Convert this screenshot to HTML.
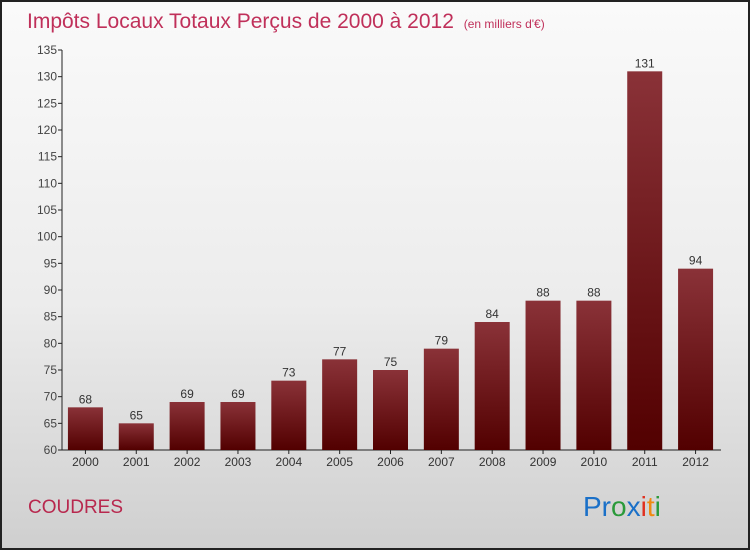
<!DOCTYPE html>
<html><head><meta charset="utf-8"><style>
html,body{margin:0;padding:0}
body{width:750px;height:550px;overflow:hidden;font-family:"Liberation Sans",sans-serif}
</style></head><body>
<svg id="c" width="750" height="550" xmlns="http://www.w3.org/2000/svg">
<defs>
<linearGradient id="bg" x1="0" y1="0" x2="0" y2="1"><stop offset="0" stop-color="#fafafa"/><stop offset="0.55" stop-color="#ececec"/><stop offset="1" stop-color="#cfcfcf"/></linearGradient>
<linearGradient id="bar" x1="0" y1="0" x2="0" y2="1"><stop offset="0" stop-color="#8a3238"/><stop offset="1" stop-color="#520000"/></linearGradient>
</defs>
<rect x="1" y="1" width="748" height="548" fill="url(#bg)" stroke="#222" stroke-width="2"/>
<text x="27" y="28" font-size="21" fill="#c0305a">Impôts Locaux Totaux Perçus de 2000 à 2012 <tspan font-size="12" dx="4">(en milliers d'€)</tspan></text>
<g id="axes"></g>
<g id="bars"></g>
<text x="28" y="513" font-size="19" fill="#b8284e">COUDRES</text>
<g font-size="28">
<text x="583" y="516"><tspan fill="#1a70c8">Pr</tspan><tspan fill="#2a9a3a">o</tspan><tspan fill="#1a70c8">x</tspan><tspan fill="#e03020">i</tspan><tspan fill="#f08a10">t</tspan><tspan fill="#2a9a3a">i</tspan></text>
</g>
</svg>
<script>
const years=["2000","2001","2002","2003","2004","2005","2006","2007","2008","2009","2010","2011","2012"];
const values=[68,65,69,69,73,77,75,79,84,88,88,131,94];
const yTicks=[60,65,70,75,80,85,90,95,100,105,110,115,120,125,130,135];
const NS="http://www.w3.org/2000/svg";
const x0=60,x1=721,yTop=50,yBot=450,vMin=60,vMax=135;
const y=v=>yBot-(v-vMin)/(vMax-vMin)*(yBot-yTop);
const step=(x1-x0)/years.length;
const xc=i=>x0+step*(i+0.5);
function mk(t,a,p){const e=document.createElementNS(NS,t);for(const k in a)e.setAttribute(k,a[k]);p.appendChild(e);return e;}
const ax=document.getElementById('axes'),bg=document.getElementById('bars');
const yl=mk('line',{x1:62,y1:yTop,x2:62,y2:yBot,stroke:'#222'},ax);


const xl=mk('line',{x1:62,y1:yBot,x2:x1,y2:yBot,stroke:'#222'},ax);


yTicks.forEach(v=>{
 mk('line',{x1:58,y1:y(v),x2:62,y2:y(v),stroke:'#222'},ax);
 const t=mk('text',{x:57,y:y(v)+4,'font-size':12,fill:'#444','text-anchor':'end'},ax);
 t.textContent=v;
 
 
});
years.forEach((yr,i)=>{
 const v=values[i],cx=xc(i),w=35;
 const r=mk('rect',{x:cx-w/2,y:y(v),width:w,height:yBot-y(v),fill:'url(#bar)'},bg);
 
 
 const lb=mk('text',{x:cx,y:y(v)-4,'font-size':12,fill:'#333','text-anchor':'middle'},bg);
 lb.textContent=v;
 
 
 mk('line',{x1:cx,y1:yBot,x2:cx,y2:yBot+4,stroke:'#222'},ax);
 const xt=mk('text',{x:cx,y:yBot+16,'font-size':12,fill:'#333','text-anchor':'middle'},ax);
 xt.textContent=yr;
 
 
});
</script>
</body></html>
